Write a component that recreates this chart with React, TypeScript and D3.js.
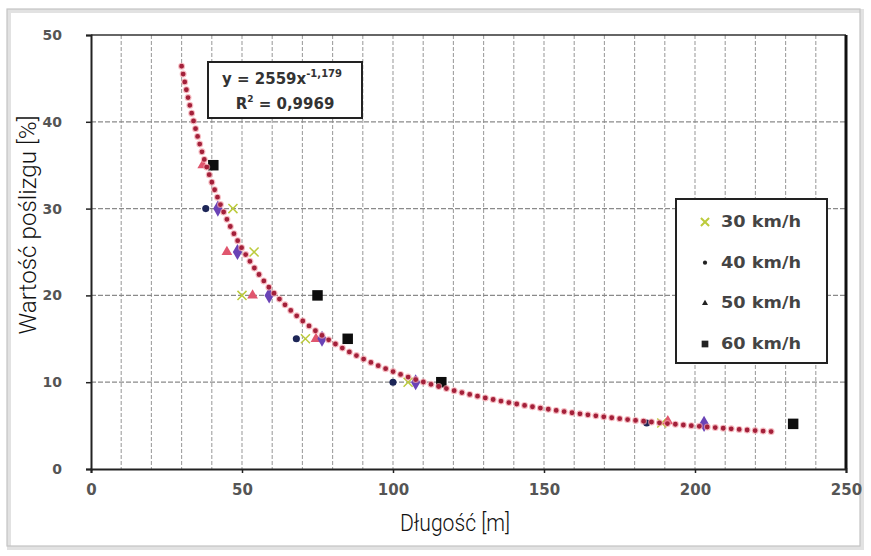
import React, { useEffect, useRef } from "react";
import * as d3 from "d3";

// readings taken off the scanned chart: [length m, slip %]
const speed30: [number, number][] = [
  [47, 30], [54, 25], [50, 20], [71, 15], [105, 10], [189, 5.3],
];
const speed40: [number, number][] = [
  [38, 30], [68, 15], [100, 10], [184, 5.3],
];
const speed50: [number, number][] = [
  [37, 35], [45, 25], [53.5, 20], [74.5, 15], [191, 5.5],
];
const speed60: [number, number][] = [
  [40.5, 35], [75, 20], [85, 15], [116, 10], [232.5, 5.2],
];
// purple diamonds visible on the plot but not listed in the legend
const unlisted: [number, number][] = [
  [42, 30], [48.5, 25], [59, 20], [76.5, 15], [107.5, 10], [203, 5.2],
];

const legendLabels = ["30 km/h", "40 km/h", "50 km/h", "60 km/h"];
const xTicks = [0, 50, 100, 150, 200, 250];
const yTicks = [0, 10, 20, 30, 40, 50];

// power trend line y = a * x^b
const fitA = 2559;
const fitB = -1.179;
const fitFrom = 30;
const fitTo = 226;

export default function App() {
  const svgRef = useRef<SVGSVGElement | null>(null);

  useEffect(() => {
    if (!svgRef.current) return;
    const width = 871;
    const height = 556;
    const plot = { left: 91, right: 846, top: 35, bottom: 469 };

    const svg = d3.select(svgRef.current);
    svg.selectAll("*").remove();
    svg.attr("width", width).attr("height", height).attr("viewBox", `0 0 ${width} ${height}`);

    svg.append("rect").attr("width", width).attr("height", height).attr("fill", "#fff");

    // outer frame of the scan
    svg.append("rect")
      .attr("x", 9).attr("y", 11).attr("width", 853).attr("height", 537)
      .attr("fill", "none").attr("stroke", "#e2e2e2").attr("stroke-width", 4);
    svg.append("rect")
      .attr("x", 7).attr("y", 9).attr("width", 853).attr("height", 537)
      .attr("fill", "none").attr("stroke", "#c4c4c4").attr("stroke-width", 1.2);

    const x = d3.scaleLinear().domain([0, 250]).range([plot.left, plot.right]);
    const y = d3.scaleLinear().domain([0, 50]).range([plot.bottom, plot.top]);

    const grid = svg.append("g");
    grid.selectAll("line.v")
      .data(d3.range(10, 250, 10))
      .join("line")
      .attr("class", "v")
      .attr("x1", (d) => x(d)).attr("x2", (d) => x(d))
      .attr("y1", plot.top).attr("y2", plot.bottom)
      .attr("stroke", "#a0a0a0").attr("stroke-width", 1.1)
      .attr("stroke-dasharray", "4 2");
    grid.selectAll("line.h")
      .data(d3.range(10, 50, 10))
      .join("line")
      .attr("class", "h")
      .attr("x1", plot.left).attr("x2", plot.right)
      .attr("y1", (d) => y(d)).attr("y2", (d) => y(d))
      .attr("stroke", "#8a8a8a").attr("stroke-width", 1.3)
      .attr("stroke-dasharray", "5 2");

    // plot border
    svg.append("line")
      .attr("x1", plot.left).attr("x2", plot.right).attr("y1", plot.top).attr("y2", plot.top)
      .attr("stroke", "#333").attr("stroke-width", 1.5);
    svg.append("line")
      .attr("x1", plot.right).attr("x2", plot.right).attr("y1", plot.top).attr("y2", plot.bottom)
      .attr("stroke", "#111").attr("stroke-width", 3);

    const tickFont = "'DejaVu Sans', Verdana, sans-serif";

    const xAxis = svg.append("g")
      .attr("transform", `translate(0,${plot.bottom})`)
      .call(d3.axisBottom(x).tickValues(xTicks).tickSize(4).tickPadding(11));
    xAxis.select(".domain").attr("stroke", "#222").attr("stroke-width", 2);
    xAxis.selectAll(".tick line").attr("stroke", "#222").attr("stroke-width", 1.5);
    xAxis.selectAll("text")
      .attr("font-family", tickFont).attr("font-weight", "bold")
      .attr("font-size", "15px").attr("fill", "#555");

    const yAxis = svg.append("g")
      .attr("transform", `translate(${plot.left},0)`)
      .call(d3.axisLeft(y).tickValues(yTicks).tickSize(5).tickPadding(24));
    yAxis.select(".domain").attr("stroke", "#222").attr("stroke-width", 2);
    yAxis.selectAll(".tick line").attr("stroke", "#222").attr("stroke-width", 1.5);
    yAxis.selectAll("text")
      .attr("font-family", tickFont).attr("font-weight", "bold")
      .attr("font-size", "14px").attr("fill", "#555");

    const titleFont = "Roboto, 'Liberation Sans', sans-serif";
    svg.append("text")
      .attr("x", 455).attr("y", 531)
      .attr("text-anchor", "middle")
      .attr("font-family", titleFont).attr("font-size", "23px")
      .attr("font-weight", 300)
      .attr("textLength", 110).attr("lengthAdjust", "spacingAndGlyphs")
      .attr("fill", "#111")
      .text("Długość [m]");
    svg.append("text")
      .attr("transform", "translate(36,225) rotate(-90)")
      .attr("text-anchor", "middle")
      .attr("font-family", titleFont).attr("font-size", "23px")
      .attr("font-weight", 300)
      .attr("textLength", 219).attr("lengthAdjust", "spacingAndGlyphs")
      .attr("fill", "#111")
      .text("Wartość poślizgu [%]");

    // trend line
    const fitPts = d3.range(fitFrom, fitTo + 0.01, 1).map((v) => [v, fitA * Math.pow(v, fitB)] as [number, number]);
    const line = d3.line<[number, number]>().x((d) => x(d[0])).y((d) => y(d[1]));

    type Series = { pts: [number, number][]; sym: d3.SymbolType; size: number; color: string };
    const series: Series[] = [
      { pts: speed30, sym: d3.symbolTimes, size: 55, color: "#bccb3c" },
      { pts: speed40, sym: d3.symbolCircle, size: 40, color: "#1d2657" },
      { pts: speed50, sym: d3.symbolTriangle, size: 50, color: "#e0566e" },
      { pts: unlisted, sym: d3.symbolDiamond, size: 75, color: "#6a43b6" },
      { pts: speed60, sym: d3.symbolSquare, size: 110, color: "#0d0d0d" },
    ];

    series.forEach((s) => {
      svg.append("g")
        .selectAll("path")
        .data(s.pts)
        .join("path")
        .attr("transform", (d) => `translate(${x(d[0])},${y(d[1])})`)
        .attr("d", d3.symbol().type(s.sym).size(s.size)() as string)
        .attr("fill", s.color)
        .attr("stroke", s.sym === d3.symbolTimes ? s.color : "none")
        .attr("stroke-width", 1.5);
    });

    svg.append("path")
      .datum(fitPts)
      .attr("d", line)
      .attr("fill", "none")
      .attr("stroke", "#f2a0a8").attr("stroke-width", 7)
      .attr("stroke-linecap", "round").attr("stroke-dasharray", "0 8")
      .attr("opacity", 0.7);
    svg.append("path")
      .datum(fitPts)
      .attr("d", line)
      .attr("fill", "none")
      .attr("stroke", "#a3203a").attr("stroke-width", 4.8)
      .attr("stroke-linecap", "round").attr("stroke-dasharray", "0 8");

    // equation box
    const eq = svg.append("g");
    eq.append("rect")
      .attr("x", 208).attr("y", 62).attr("width", 154).attr("height", 56)
      .attr("fill", "#fff").attr("stroke", "#222").attr("stroke-width", 2);
    const eqText = eq.append("text")
      .attr("x", 282).attr("y", 84)
      .attr("text-anchor", "middle")
      .attr("font-family", tickFont).attr("font-weight", "bold")
      .attr("font-size", "15px").attr("fill", "#333");
    eqText.append("tspan").text(`y = ${fitA}x`);
    eqText.append("tspan").attr("dy", -7).attr("font-size", "10px")
      .text(`-${String(Math.abs(fitB)).replace(".", ",")}`);
    const r2 = eq.append("text")
      .attr("x", 285).attr("y", 109)
      .attr("text-anchor", "middle")
      .attr("font-family", tickFont).attr("font-weight", "bold")
      .attr("font-size", "15px").attr("fill", "#333");
    r2.append("tspan").text("R");
    r2.append("tspan").attr("dy", -7).attr("font-size", "9px").text("2");
    r2.append("tspan").attr("dy", 7).text(" = 0,9969");

    // legend
    const lg = svg.append("g");
    lg.append("rect")
      .attr("x", 676).attr("y", 199).attr("width", 151).attr("height", 164)
      .attr("fill", "#fff").attr("stroke", "#222").attr("stroke-width", 2);
    const legendMarks = [series[0], series[1], series[2], series[4]];
    const legendY = d3.scalePoint<string>().domain(legendLabels).range([222, 344]);
    legendLabels.forEach((lab, i) => {
      const s = legendMarks[i];
      const ly = legendY(lab) as number;
      lg.append("path")
        .attr("transform", `translate(705,${ly})`)
        .attr("d", d3.symbol().type(s.sym).size(i === 1 ? 14 : i === 2 ? 16 : 45)() as string)
        .attr("fill", i === 0 ? "#bccb3c" : "#222")
        .attr("stroke", i === 0 ? "#bccb3c" : "none")
        .attr("stroke-width", 2);
      lg.append("text")
        .attr("x", 721).attr("y", ly + 5)
        .attr("font-family", tickFont).attr("font-weight", "bold")
        .attr("font-size", "15px").attr("fill", "#444")
        .attr("textLength", 80).attr("lengthAdjust", "spacingAndGlyphs")
        .text(lab);
    });
  }, []);

  return <svg ref={svgRef} style={{ position: "absolute", left: 0, top: 0 }} />;
}
